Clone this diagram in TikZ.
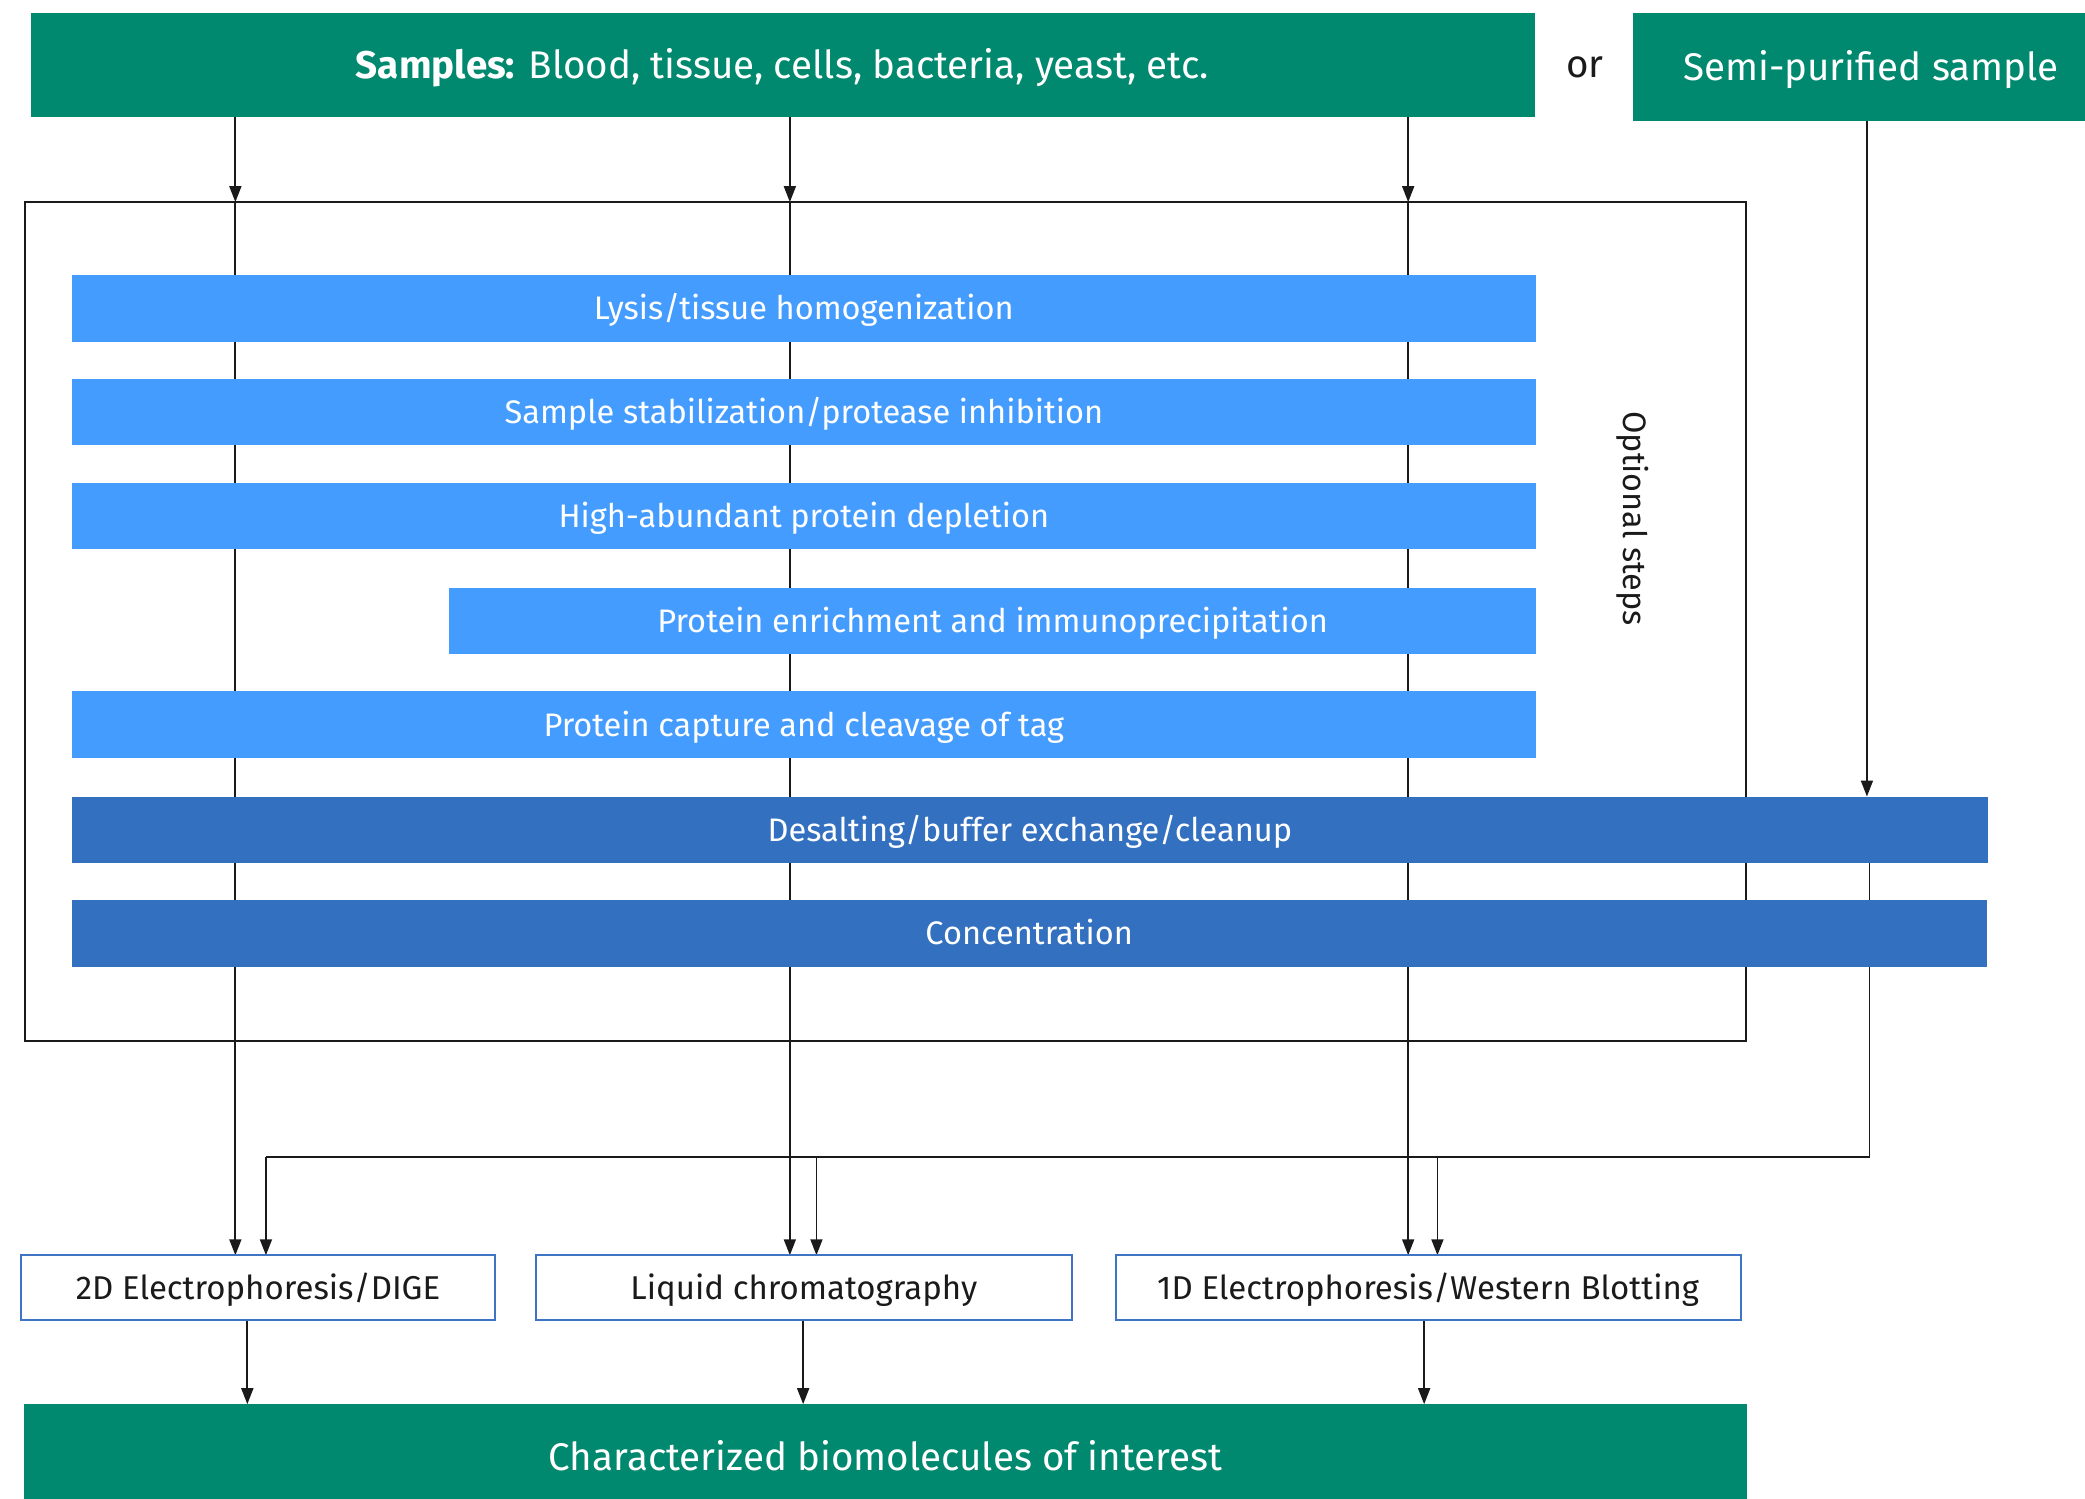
\documentclass[tikz,border=0pt]{standalone}
\usepackage{fontspec}
\setmainfont{Fira Sans}
\usetikzlibrary{arrows.meta,backgrounds}
\definecolor{sgreen}{HTML}{00896F}
\definecolor{lblue}{HTML}{449CFF}
\definecolor{dblue}{HTML}{3370C0}
\definecolor{bframe}{HTML}{3F73C4}
\definecolor{ink}{HTML}{1A1A1A}
\begin{document}
\begin{tikzpicture}[x=1pt,y=-1pt,
  greenbox/.style={text height=20pt, text depth=0pt, fill=sgreen, text=white, inner sep=0pt, outer sep=0pt, anchor=north west, font=\fontsize{29}{34}\selectfont},
  lbar/.style={text height=17pt, text depth=0pt, fill=lblue, text=white, inner sep=0pt, outer sep=0pt, anchor=north west, minimum height=50pt, font=\fontsize{24.5}{29}\selectfont},
  dbar/.style={lbar, fill=dblue},
  method/.style={text height=17pt, text depth=0pt, draw=bframe, line width=1.5pt, fill=white, text=ink, inner sep=0pt, outer sep=0pt, anchor=north west, minimum height=49pt, font=\fontsize{24.8}{29}\selectfont},
  conn/.style={draw=ink, line width=1.3pt},
  arr/.style={conn, -{Triangle[length=12pt,width=9pt]}},
  plain/.style={text=ink, inner sep=0pt, font=\fontsize{29}{34}\selectfont},
]
\useasboundingbox (0,0) rectangle (1568,1127);

% column coordinates
\coordinate (c1) at (177,0);
\coordinate (c2) at (594,0);
\coordinate (c3) at (1059,0);
\coordinate (s1) at (1404,0);
\coordinate (s2) at (1406,0);
\coordinate (b1) at (200,0);
\coordinate (b2) at (614,0);
\coordinate (b3) at (1081,0);
\coordinate (d1) at (186,0);
\coordinate (d2) at (604,0);
\coordinate (d3) at (1071,0);
\coordinate (jr) at (1406,870);
\coordinate (jl) at (200,870);

% top
\node[greenbox, minimum width=1131pt, minimum height=78pt] (samples) at (23,10)
  {\textbf{Samples:} Blood, tissue, cells, bacteria, yeast, etc.};
\node[plain] (or) at (1192,51) {or};
\node[greenbox, minimum width=358pt, minimum height=81pt] (semi) at (1228,10) {Semi-purified sample};

% frame
\node[draw=ink, line width=1.4pt, inner sep=0pt, outer sep=0pt, anchor=north west,
  minimum width=1294pt, minimum height=631pt] (frame) at (19,152) {};
\node[rotate=-90, text=ink, inner sep=0pt, font=\fontsize{24.4}{28}\selectfont] (opt) at (1228,390) {Optional steps};

% bars
\node[lbar, minimum width=1101pt] (lysis) at (54,207) {Lysis/tissue homogenization};
\node[lbar, minimum width=1101pt] (stab) at (54,285) {Sample stabilization/protease inhibition};
\node[lbar, minimum width=1101pt] (depl) at (54,363) {High-abundant protein depletion};
\node[lbar, minimum width=817pt] (enr) at (338,442) {Protein enrichment and immunoprecipitation};
\node[lbar, minimum width=1101pt] (capt) at (54,520) {Protein capture and cleavage of tag};
\node[dbar, minimum width=1441pt] (desalt) at (54,599) {Desalting/buffer exchange/cleanup};
\node[dbar, minimum width=1440pt] (conc) at (54,677) {Concentration};

% methods
\node[method, minimum width=356pt] (twod) at (16,944) {2D Electrophoresis/DIGE};
\node[method, minimum width=403pt] (lc) at (403,944) {Liquid chromatography};
\node[method, minimum width=470pt] (oned) at (839,944) {1D Electrophoresis/Western Blotting};

% result
\node[greenbox, minimum width=1296pt, minimum height=80pt] (result) at (18,1056)
  {Characterized biomolecules of interest};

\begin{scope}[on background layer]
  \draw[arr] (samples.south -| c1) -- (frame.north -| c1);
  \draw[arr] (samples.south -| c2) -- (frame.north -| c2);
  \draw[arr] (samples.south -| c3) -- (frame.north -| c3);
  \draw[arr] (frame.north -| c1) -- (twod.north -| c1);
  \draw[arr] (frame.north -| c2) -- (lc.north -| c2);
  \draw[arr] (frame.north -| c3) -- (oned.north -| c3);
  \draw[arr] (semi.south -| s1) -- (desalt.north -| s1);
  \draw[conn] (desalt.south -| s2) -- (jr) -- (jl);
  \draw[arr] (jl) -- (twod.north -| b1);
  \draw[arr] (jl -| b2) -- (lc.north -| b2);
  \draw[arr] (jl -| b3) -- (oned.north -| b3);
  \draw[arr] (twod.south -| d1) -- (result.north -| d1);
  \draw[arr] (lc.south -| d2) -- (result.north -| d2);
  \draw[arr] (oned.south -| d3) -- (result.north -| d3);
\end{scope}
\end{tikzpicture}
\end{document}
